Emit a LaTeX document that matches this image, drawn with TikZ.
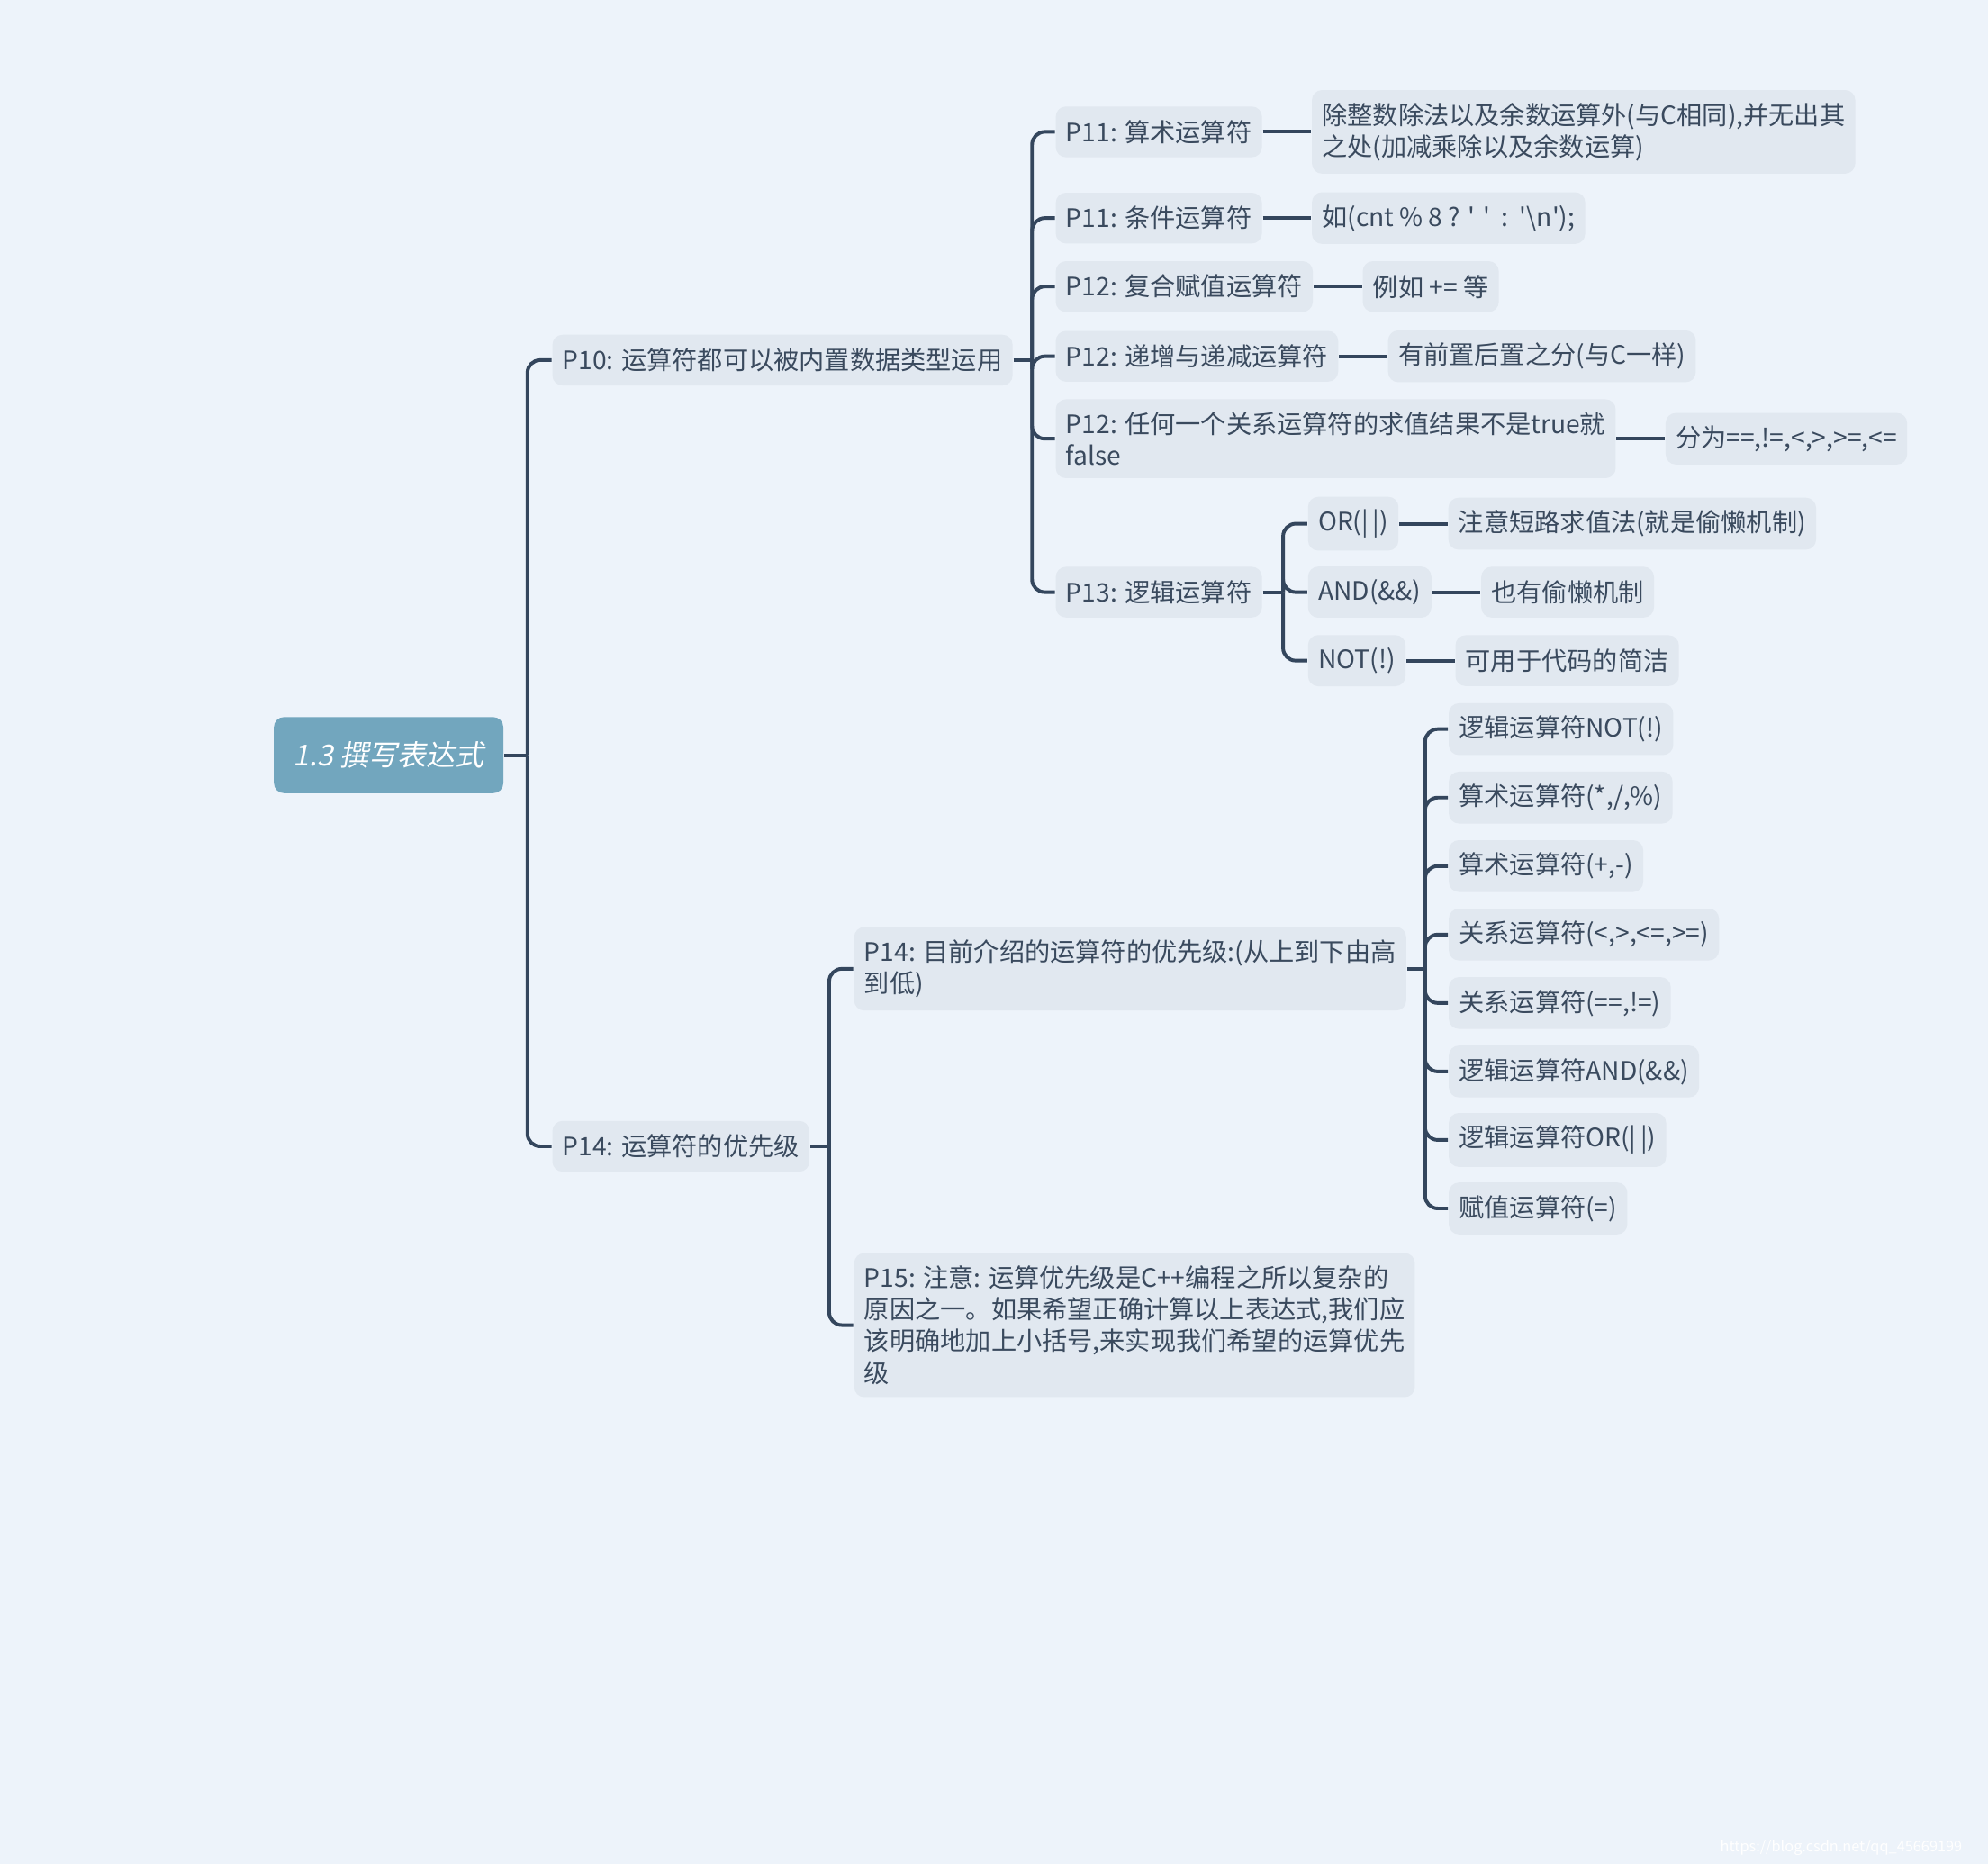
\documentclass[tikz,border=0pt]{standalone}
\usepackage{fontspec}
\setmainfont{Noto Sans CJK SC}[Ligatures=TeXOff]
\newfontfamily\rootfont{Noto Sans CJK SC}[FakeSlant=0.2]
\usetikzlibrary{positioning}
\definecolor{bgcol}{HTML}{EDF3FA}
\definecolor{boxcol}{HTML}{E1E8F0}
\definecolor{rootcol}{HTML}{72A6BE}
\definecolor{linecol}{HTML}{34465D}
\definecolor{txtcol}{HTML}{3A4A5E}

\begin{document}
\begin{tikzpicture}[
    every node/.style={font=\fontsize{5.7}{7.1}\selectfont, text=txtcol},
    topic/.style={fill=boxcol, rounded corners=0.08cm, minimum height=0.4cm, inner xsep=0.08cm, inner ysep=0.1cm, align=left, anchor=west},
    link/.style={draw=linecol, line width=0.8pt, rounded corners=0.1cm},
    node distance=0.38cm
]
    \fill[bgcol] (0,0) rectangle (15.68,-14.70);
    \useasboundingbox (0,0) rectangle (15.68,-14.70);

    % central topic
    \node [fill=rootcol, text=white, rounded corners=0.08cm, minimum width=1.81cm, minimum height=0.6cm, font=\rootfont\fontsize{6.5}{8}\selectfont] (root) at (3.065,-5.955) {1.3 撰写表达式};
    \node [topic] (p10) at (4.35,-2.84) {P10: 运算符都可以被内置数据类型运用};
    \node [topic] (p14) at (4.35,-9.04) {P14: 运算符的优先级};

    % P10
    \node [topic] (a1) at (8.32,-1.04) {P11: 算术运算符};
    \node [topic] (a2) at (8.32,-1.72) {P11: 条件运算符};
    \node [topic] (a3) at (8.32,-2.26) {P12: 复合赋值运算符};
    \node [topic] (a4) at (8.32,-2.81) {P12: 递增与递减运算符};
    \node [topic] (a5) at (8.32,-3.46) {P12: 任何一个关系运算符的求值结果不是true就\\false};
    \node [topic] (a6) at (8.32,-4.67) {P13: 逻辑运算符};
    \node [topic, right=of a1] (da1) {除整数除法以及余数运算外(与C相同),并无出其\\之处(加减乘除以及余数运算)};
    \node [topic, right=of a2] (da2) {如(cnt \% 8 ? ' '~~:~~'\textbackslash n');};
    \node [topic, right=of a3] (da3) {例如 += 等};
    \node [topic, right=of a4] (da4) {有前置后置之分(与C一样)};
    \node [topic, right=of a5] (da5) {分为==,!=,<,>,>=,<=};

    % P13
    \node [topic] (b1) at (10.31,-4.13) {OR(|\,|)};
    \node [topic] (b2) at (10.31,-4.67) {AND(\&\&)};
    \node [topic] (b3) at (10.31,-5.21) {NOT(!)};
    \node [topic, right=of b1] (db1) {注意短路求值法(就是偷懒机制)};
    \node [topic, right=of b2] (db2) {也有偷懒机制};
    \node [topic, right=of b3] (db3) {可用于代码的简洁};

    % P14
    \node [topic] (c1) at (6.73,-7.64) {P14: 目前介绍的运算符的优先级:(从上到下由高\\到低)};
    \node [topic] (c2) at (6.73,-10.45) {P15: 注意: 运算优先级是C++编程之所以复杂的\\原因之一。如果希望正确计算以上表达式,我们应\\该明确地加上小括号,来实现我们希望的运算优先\\级};
    \node [topic] (e1) at (11.42,-5.75) {逻辑运算符NOT(!)};
    \node [topic] (e2) at (11.42,-6.29) {算术运算符(*,/,\%)};
    \node [topic] (e3) at (11.42,-6.83) {算术运算符(+,-)};
    \node [topic] (e4) at (11.42,-7.37) {关系运算符(<,>,<=,>=)};
    \node [topic] (e5) at (11.42,-7.91) {关系运算符(==,!=)};
    \node [topic] (e6) at (11.42,-8.45) {逻辑运算符AND(\&\&)};
    \node [topic] (e7) at (11.42,-8.99) {逻辑运算符OR(|\,|)};
    \node [topic] (e8) at (11.42,-9.53) {赋值运算符(=)};

    \node [font=\fontsize{3.3}{4}\selectfont, text=white, anchor=east] (mark) at (15.60,-14.57) {https://blog.csdn.net/qq\_45669199};

    % branch points
    \coordinate (rj) at (4.16,-5.955);
    \coordinate (aj) at (8.14,-2.84);
    \coordinate (bj) at (10.12,-4.67);
    \coordinate (pj) at (6.54,-9.04);
    \coordinate (cj) at (11.24,-7.64);

    \draw [link] (root.east) -- (rj);
    \draw [link] (rj) |- (p10.west);
    \draw [link] (rj) |- (p14.west);

    \draw [link] (p10.east) -- (aj);
    \draw [link] (aj) |- (a1.west);
    \draw [link] (aj) |- (a2.west);
    \draw [link] (aj) |- (a3.west);
    \draw [link] (aj) |- (a4.west);
    \draw [link] (aj) |- (a5.west);
    \draw [link] (aj) |- (a6.west);
    \draw [link] (a1) -- (da1);
    \draw [link] (a2) -- (da2);
    \draw [link] (a3) -- (da3);
    \draw [link] (a4) -- (da4);
    \draw [link] (a5) -- (da5);

    \draw [link] (a6.east) -- (bj);
    \draw [link] (bj) |- (b1.west);
    \draw [link] (bj) |- (b2.west);
    \draw [link] (bj) |- (b3.west);
    \draw [link] (b1) -- (db1);
    \draw [link] (b2) -- (db2);
    \draw [link] (b3) -- (db3);

    \draw [link] (p14.east) -- (pj);
    \draw [link] (pj) |- (c1.west);
    \draw [link] (pj) |- (c2.west);

    \draw [link] (c1.east) -- (cj);
    \draw [link] (cj) |- (e1.west);
    \draw [link] (cj) |- (e2.west);
    \draw [link] (cj) |- (e3.west);
    \draw [link] (cj) |- (e4.west);
    \draw [link] (cj) |- (e5.west);
    \draw [link] (cj) |- (e6.west);
    \draw [link] (cj) |- (e7.west);
    \draw [link] (cj) |- (e8.west);
\end{tikzpicture}
\end{document}
